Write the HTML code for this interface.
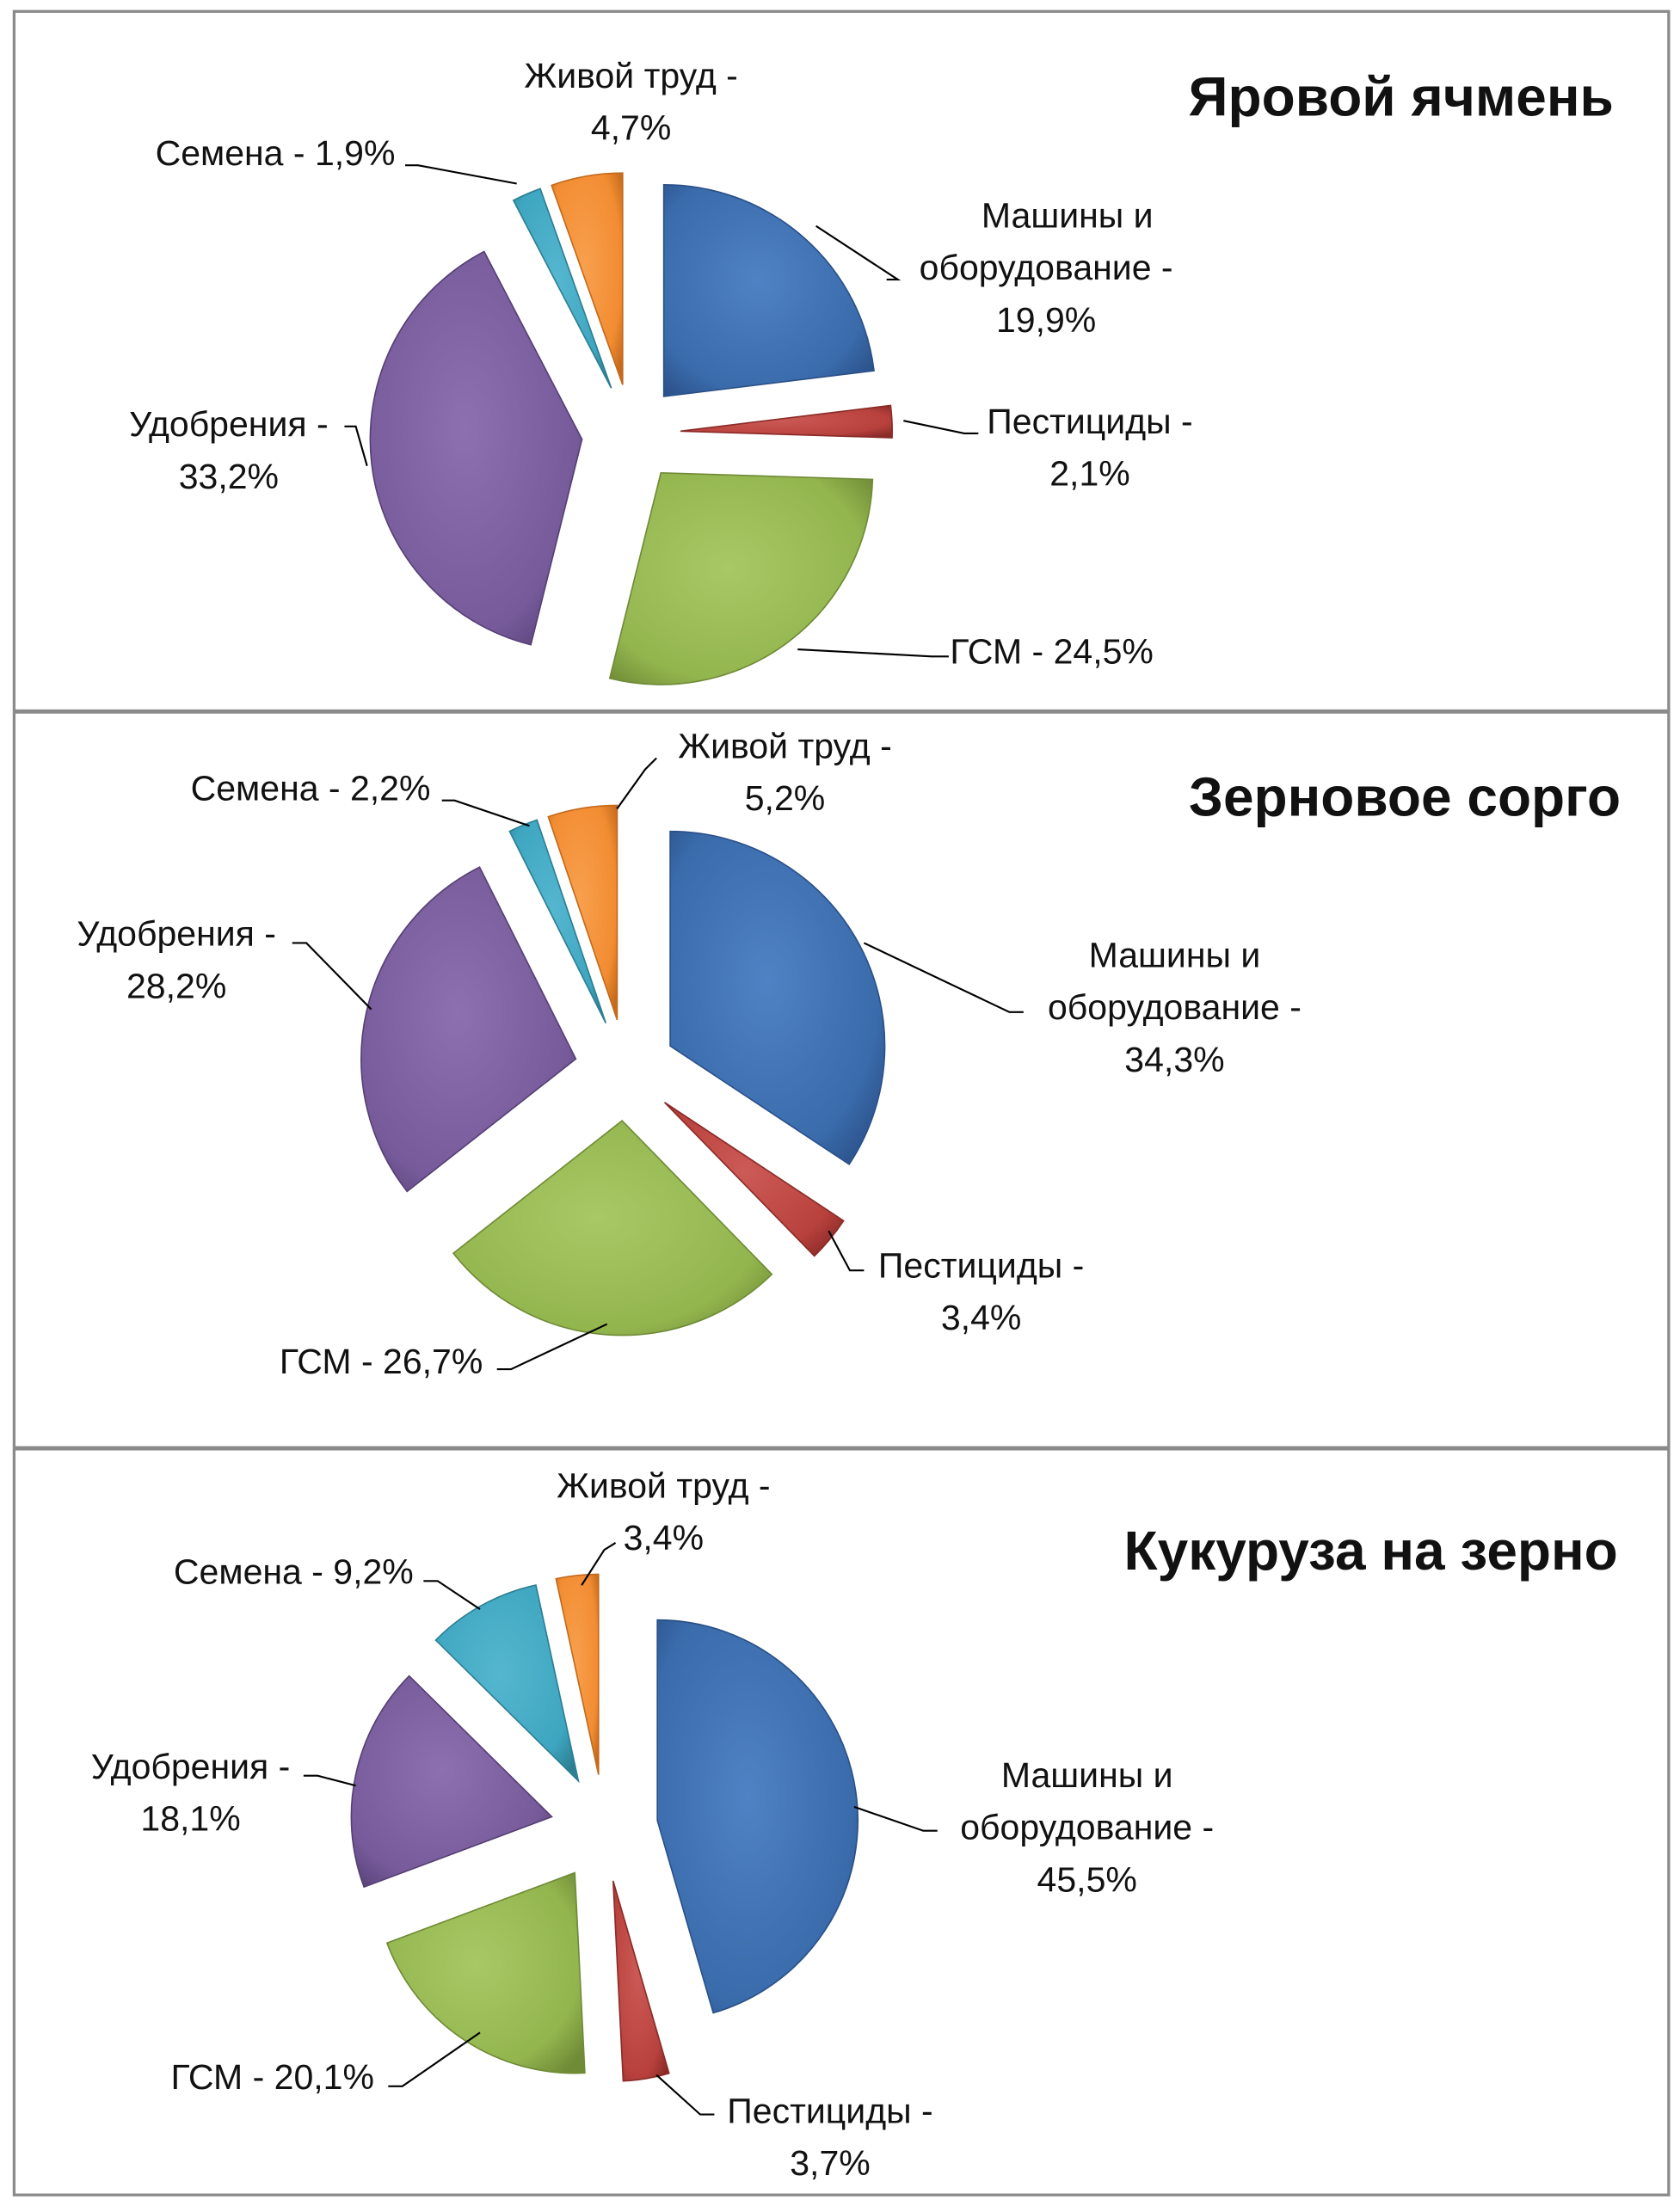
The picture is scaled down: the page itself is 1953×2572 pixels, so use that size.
<!DOCTYPE html>
<html><head><meta charset="utf-8"><style>
html,body{margin:0;padding:0;background:#fff;}
svg{display:block;}
text{font-family:"Liberation Sans","DejaVu Sans",sans-serif;fill:#111;}
.lbl{font-size:25px;}
.ttl{font-size:39px;font-weight:bold;}
</style></head><body>
<svg id="root" width="1953" height="2572" viewBox="0 0 1190 1567" xmlns="http://www.w3.org/2000/svg">
<defs id="defs"></defs>
<rect x="10" y="8" width="1172" height="1547" fill="#fff" stroke="#8a8a8a" stroke-width="2"/>
<line x1="10" y1="504" x2="1182" y2="504" stroke="#8a8a8a" stroke-width="3"/>
<line x1="10" y1="1026" x2="1182" y2="1026" stroke="#8a8a8a" stroke-width="3"/>
<g id="charts"></g>
</svg>
<script>
const categories = ["Машины и оборудование","Пестициды","ГСМ","Удобрения","Семена","Живой труд"];
const barleyValues = [19.9, 2.1, 24.5, 33.2, 1.9, 4.7];
const sorghumValues = [34.3, 3.4, 26.7, 28.2, 2.2, 5.2];
const cornValues = [45.5, 3.7, 20.1, 18.1, 9.2, 3.4];
const chartTitles = ["Яровой ячмень","Зерновое сорго","Кукуруза на зерно"];

const colors = [["#4f82c4","#3a6bab","#2a5088"],["#cc5a56","#b8413d","#8a2b28"],["#a8c865","#93b54e","#6f8b36"],["#8c70b0","#765a9a","#564074"],["#55b6cf","#3ea6c0","#2c7e92"],["#f8a04e","#f28c32","#c46a1c"]];
const NS="http://www.w3.org/2000/svg";
const defs=document.getElementById('defs');
colors.forEach((c,i)=>{
  const g=document.createElementNS(NS,'radialGradient');
  g.setAttribute('id','g'+i);g.setAttribute('cx','0.45');g.setAttribute('cy','0.45');g.setAttribute('r','0.7');
  [[0,c[0]],[0.75,c[1]],[1,c[2]]].forEach(s=>{const st=document.createElementNS(NS,'stop');st.setAttribute('offset',s[0]);st.setAttribute('stop-color',s[1]);g.appendChild(st);});
  defs.appendChild(g);
});

const layouts=[
 {vals:barleyValues,cx:447,cy:307,r:150,e:35,title:[1143,82],
  labels:[[["Машины и",756,161],["оборудование -",741,198],["19,9%",741,235]],[["Пестициды -",772,307],["2,1%",772,344]],[["ГСМ - 24,5%",745,470]],[["Удобрения -",162,309],["33,2%",162,346]],[["Семена - 1,9%",195,117]],[["Живой труд -",447,62],["4,7%",447,99]]],
  leaders:[[[628,198],[636,198],[578,160]],[[693,307],[683,307],[640,298]],[[672,465],[660,465],[565,460]],[[244,302],[252,302],[260,330]],[[287,117],[296,117],[366,130]],null]},
 {vals:sorghumValues,cx:443,cy:758,r:152,e:36,title:[1148,578],
  labels:[[["Машины и",832,685],["оборудование -",832,722],["34,3%",832,759]],[["Пестициды -",695,905],["3,4%",695,942]],[["ГСМ - 26,7%",270,973]],[["Удобрения -",125,670],["28,2%",125,707]],[["Семена - 2,2%",220,567]],[["Живой труд -",556,537],["5,2%",556,574]]],
  leaders:[[[725,717],[715,717],[612,668]],[[612,900],[602,900],[587,872]],[[352,970],[362,970],[430,938]],[[207,668],[217,668],[263,715]],[[313,567],[322,567],[375,585]],[[465,537],[457,545],[437,573]]]},
 {vals:cornValues,cx:428,cy:1295,r:142,e:38,title:[1146,1112],
  labels:[[["Машины и",770,1266],["оборудование -",770,1303],["45,5%",770,1340]],[["Пестициды -",588,1504],["3,7%",588,1541]],[["ГСМ - 20,1%",193,1480]],[["Удобрения -",135,1260],["18,1%",135,1297]],[["Семена - 9,2%",208,1122]],[["Живой труд -",470,1061],["3,4%",470,1098]]],
  leaders:[[[664,1297],[654,1297],[605,1280]],[[506,1498],[496,1498],[465,1470]],[[275,1478],[285,1478],[340,1440]],[[215,1258],[225,1258],[252,1265]],[[300,1120],[310,1120],[340,1140]],[[436,1093],[428,1098],[412,1123]]]}
];
const keys=["machines","pesticides","fuel","fertilizers","seeds","labor"];
const chartKeys=["barley","sorghum","corn"];
const root=document.getElementById('charts');
function pt(cx,cy,r,a){const t=a*Math.PI/180;return [cx+r*Math.sin(t),cy-r*Math.cos(t)];}
layouts.forEach((L,ci)=>{
  const g=document.createElementNS(NS,'g');
  
  
  root.appendChild(g);
  const total=L.vals.reduce((a,b)=>a+b,0);
  let a0=0;
  L.vals.forEach((v,i)=>{
    const sw=v/total*360, a1=a0+sw, mid=a0+sw/2;
    const [ox,oy]=pt(0,0,L.e,mid);
    const cx=L.cx+ox, cy=L.cy+oy;
    const p0=pt(cx,cy,L.r,a0), p1=pt(cx,cy,L.r,a1);
    const path=document.createElementNS(NS,'path');
    path.setAttribute('d',`M${cx},${cy} L${p0[0]},${p0[1]} A${L.r},${L.r} 0 ${sw>180?1:0} 1 ${p1[0]},${p1[1]} Z`);
    path.setAttribute('fill',`url(#g${i})`);
    path.setAttribute('stroke',colors[i][2]);
    path.setAttribute('stroke-width','1');
    
    
    g.appendChild(path);
    a0=a1;
  });
  L.leaders.forEach((ld,i)=>{
    if(!ld) return;
    const pl=document.createElementNS(NS,'polyline');
    pl.setAttribute('points',ld.map(p=>p.join(',')).join(' '));
    pl.setAttribute('fill','none');pl.setAttribute('stroke','#000');pl.setAttribute('stroke-width','1.3');
    
    
    g.appendChild(pl);
  });
  L.labels.forEach((lines,i)=>{
    const t=document.createElementNS(NS,'text');
    t.setAttribute('class','lbl');t.setAttribute('text-anchor','middle');
    
    
    lines.forEach(l=>{const s=document.createElementNS(NS,'tspan');s.setAttribute('x',l[1]);s.setAttribute('y',l[2]);s.textContent=l[0];t.appendChild(s);});
    g.appendChild(t);
  });
  const tt=document.createElementNS(NS,'text');
  tt.setAttribute('class','ttl');tt.setAttribute('text-anchor','end');
  tt.setAttribute('x',L.title[0]);tt.setAttribute('y',L.title[1]);
  
  
  tt.textContent=chartTitles[ci];
  g.appendChild(tt);
});
</script>
</body></html>
